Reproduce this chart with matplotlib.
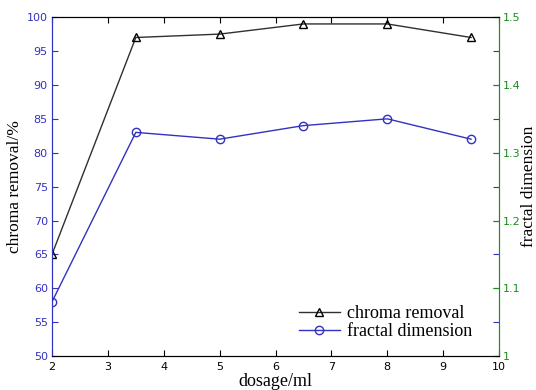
import matplotlib
matplotlib.use("Agg")
import matplotlib.pyplot as plt

dosage = [2, 3.5, 5, 6.5, 8, 9.5]
chroma_removal = [65, 97, 97.5, 99, 99, 97]
fractal_dimension = [1.08, 1.33, 1.32, 1.34, 1.35, 1.32]

blue = "#3232c0"
green = "#1e8c1e"
tick_font = "DejaVu Sans"
label_font = "Liberation Serif"

fig = plt.figure(figsize=(5.36, 3.9), dpi=100)
ax = fig.add_axes([0.097, 0.087, 0.834, 0.869])
ax2 = ax.twinx()

l1, = ax.plot(dosage, chroma_removal, color="#303030", lw=1.0, marker="^",
              markersize=6, markerfacecolor="none", markeredgecolor="black",
              label="chroma removal")
l2, = ax2.plot(dosage, fractal_dimension, color=blue, lw=1.0, marker="o",
               markersize=6, markerfacecolor="none", markeredgecolor=blue,
               label="fractal dimension")

ax.set_xlim(2, 10)
ax.set_ylim(50, 100)
ax2.set_ylim(1, 1.5)
ax.set_xticks(range(2, 11))
ax.set_yticks(range(50, 101, 5))
ax2.set_yticks([1, 1.1, 1.2, 1.3, 1.4, 1.5])
ax2.set_yticklabels(["1", "1.1", "1.2", "1.3", "1.4", "1.5"])

ax.tick_params(axis="x", direction="in", top=True, length=4, labelsize=8,
               colors="black", pad=4)
ax.tick_params(axis="y", direction="in", right=True, length=4, labelsize=8,
               colors=blue, pad=3)
ax2.tick_params(axis="y", direction="in", length=4, labelsize=8,
                colors=green, pad=3)
for lab in ax.get_xticklabels() + ax.get_yticklabels() + ax2.get_yticklabels():
    lab.set_fontfamily(tick_font)

ax.spines["left"].set_color(blue)
ax2.spines["left"].set_color(blue)
ax2.spines["right"].set_color(green)
ax.spines["right"].set_color(green)

ax.set_xlabel("dosage/ml", fontsize=13, family=label_font,
              va="center", ha="center")
ax.set_ylabel("chroma removal/%", fontsize=12.5, family=label_font,
              va="center", ha="center", rotation_mode="anchor")
ax2.set_ylabel("fractal dimension", fontsize=12.5, family=label_font,
               va="center", ha="center", rotation_mode="anchor")
ax.xaxis.set_label_coords(0.5, -0.074)
ax.yaxis.set_label_coords(-0.083, 0.5)
ax2.yaxis.set_label_coords(1.066, 0.5)

ax2.legend([l1, l2], ["chroma removal", "fractal dimension"], loc="lower right",
           bbox_to_anchor=(0.969, 0.01), frameon=False,
           prop={"family": label_font, "size": 13}, handlelength=2.3,
           handletextpad=0.4, labelspacing=0.05, borderpad=0.2)

fig.savefig("out.png", dpi=100)
